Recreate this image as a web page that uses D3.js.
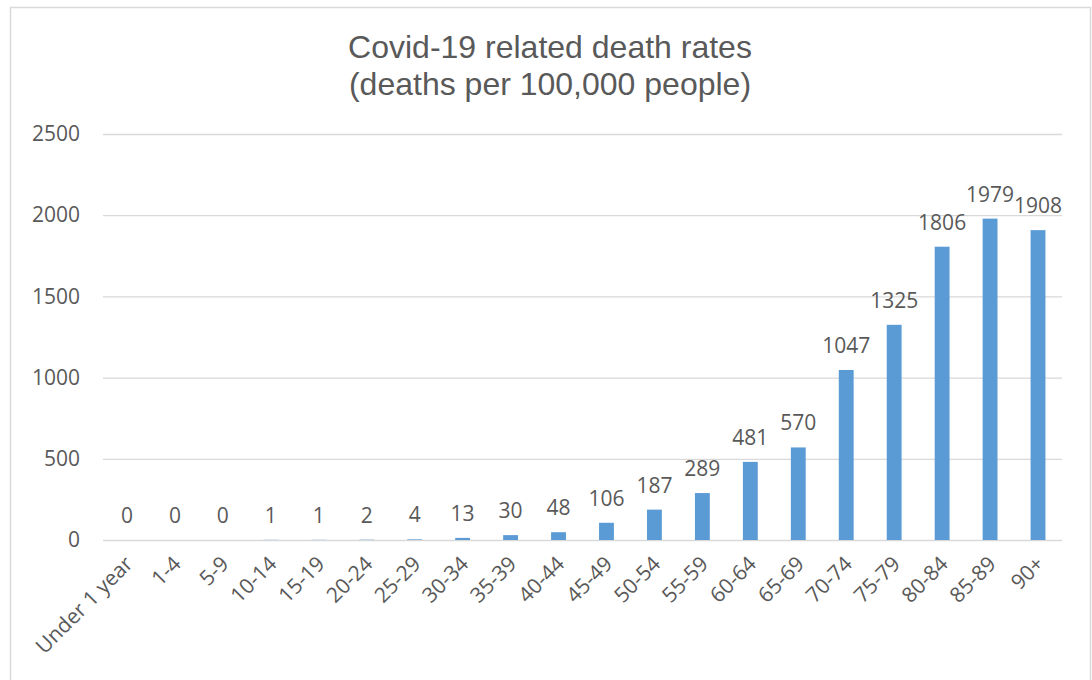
<!DOCTYPE html>
<html>
<head>
<meta charset="utf-8">
<script src="https://cdn.jsdelivr.net/npm/d3@7"></script>
<style>
  body { margin: 0; background: #fff; }
  svg { display: block; }
</style>
</head>
<body>
<svg id="chart" width="1092" height="680"></svg>
<script>
// data
const ageGroups = ["Under 1 year", "1-4", "5-9", "10-14", "15-19", "20-24", "25-29", "30-34", "35-39", "40-44",
  "45-49", "50-54", "55-59", "60-64", "65-69", "70-74", "75-79", "80-84", "85-89", "90+"];
const deathRates = [0, 0, 0, 1, 1, 2, 4, 13, 30, 48, 106, 187, 289, 481, 570, 1047, 1325, 1806, 1979, 1908];
const yTicks = [0, 500, 1000, 1500, 2000, 2500];
const titleLines = ["Covid-19 related death rates", "(deaths per 100,000 people)"];

const width = 1092, height = 680;
const margin = { top: 134, right: 30, bottom: 140, left: 103 };
const labelFont = "'Open Sans', sans-serif";
const textColor = "#595959";
const gridColor = "#d9d9d9";

const svg = d3.select("#chart");

// chart border
svg.append("rect")
  .attr("x", 10.5).attr("y", 7.5)
  .attr("width", 1080).attr("height", 720)
  .attr("fill", "#fff")
  .attr("stroke", gridColor)
  .attr("stroke-width", 1.5);

// title
svg.append("text")
  .attr("x", 550).attr("y", 58)
  .attr("text-anchor", "middle")
  .attr("font-family", "'Liberation Sans', Arial, sans-serif")
  .attr("font-size", 32)
  .attr("fill", textColor)
  .selectAll("tspan")
  .data(titleLines)
  .enter()
  .append("tspan")
  .attr("x", 550)
  .attr("dy", (d, i) => i === 0 ? 0 : 37)
  .text(d => d);

const x = d3.scaleBand()
  .domain(ageGroups)
  .range([margin.left, width - margin.right])
  .paddingInner(0.69)
  .paddingOuter(0.345);

const y = d3.scaleLinear()
  .domain([0, 2500])
  .range([height - margin.bottom, margin.top]);

// gridlines + y labels
const yAxis = svg.append("g")
  .attr("transform", `translate(${margin.left},0)`)
  .call(d3.axisLeft(y)
    .tickValues(yTicks)
    .tickFormat(d3.format("d"))
    .tickSize(-(width - margin.right - margin.left))
    .tickPadding(23));

yAxis.select(".domain").remove();
yAxis.selectAll(".tick line").attr("stroke", gridColor).attr("stroke-width", 1.3);
yAxis.selectAll(".tick text")
  .attr("font-family", labelFont)
  .attr("font-size", 21)
  .attr("fill", textColor);

// bars
svg.append("g")
  .selectAll("rect")
  .data(deathRates)
  .enter()
  .append("rect")
  .attr("x", (d, i) => x(ageGroups[i]))
  .attr("y", d => y(d))
  .attr("width", x.bandwidth())
  .attr("height", d => y(0) - y(d))
  .attr("fill", "#5b9bd5");

// value labels
svg.append("g")
  .selectAll("text")
  .data(deathRates)
  .enter()
  .append("text")
  .attr("x", (d, i) => x(ageGroups[i]) + x.bandwidth() / 2)
  .attr("y", d => y(d) - 17)
  .attr("text-anchor", "middle")
  .attr("font-family", labelFont)
  .attr("font-size", 21)
  .attr("fill", textColor)
  .text(d => d);

// x labels, rotated
const xAxis = svg.append("g")
  .attr("transform", `translate(0,${height - margin.bottom})`)
  .call(d3.axisBottom(x).tickSize(0).tickPadding(0));

xAxis.select(".domain").remove();
xAxis.selectAll(".tick text")
  .attr("font-family", labelFont)
  .attr("font-size", 21)
  .attr("fill", textColor)
  .attr("text-anchor", "end")
  .attr("dy", "0.35em")
  .attr("transform", "translate(2,20) rotate(-45)");
</script>
</body>
</html>
